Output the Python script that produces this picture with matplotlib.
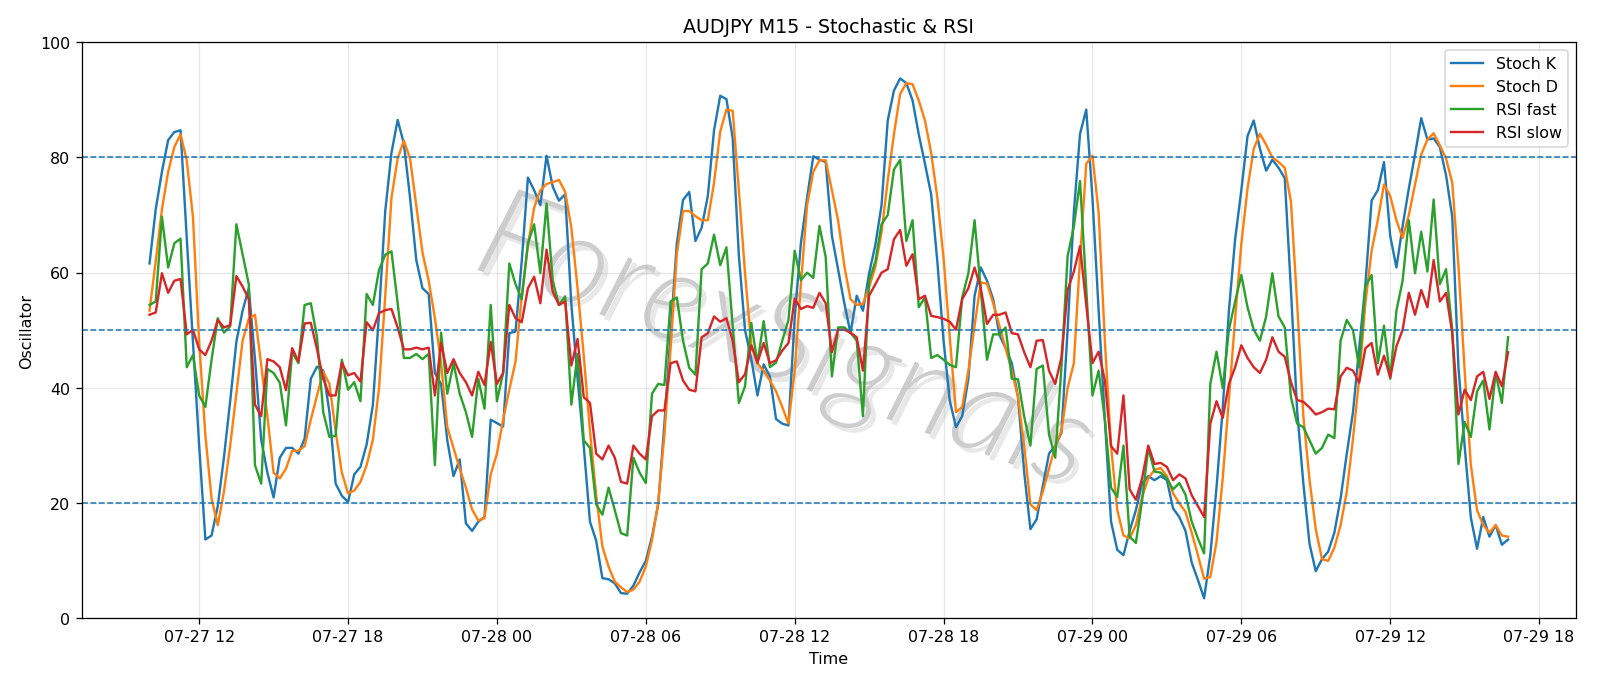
import matplotlib

matplotlib.use("Agg")
import matplotlib.dates as mdates
import matplotlib.patheffects as pe
import matplotlib.pyplot as plt
import pandas as pd

# 15-minute bars, AUDJPY
START = "2024-07-27 10:00"
FREQ = "15min"

STOCH_K = [
    61.6, 71, 77.5, 83, 84.4, 84.7, 66, 48, 30, 13.7,
    14.4, 19.5, 28, 37.7, 48, 53.4, 57.3, 45, 31, 25.3,
    21, 27.9, 29.6, 29.6, 28.6, 31.2, 41.6, 43.7, 43, 35.8,
    23.4, 21.3, 20.2, 25, 26.3, 30.2, 37, 53, 70.7, 80.8,
    86.5, 82.4, 73, 62.2, 57.3, 56.3, 42.6, 40.7, 30.9, 24.7,
    27.6, 16.5, 15.2, 16.8, 17.6, 34.5, 33.9, 33.3, 49.5, 49.8,
    62, 76.5, 74.3, 71.7, 80.3, 74.9, 72.5, 73.6, 54.5, 41.6,
    29.9, 16.8, 13.5, 7, 6.8, 6.1, 4.4, 4.3, 5.7, 8,
    10, 14.2, 19.8, 33.8, 49.5, 65.1, 72.6, 74, 65.5, 67.8,
    73.3, 84.7, 90.7, 90.1, 83.4, 63, 50, 45, 38.7, 44.1,
    42, 34.6, 33.8, 33.5, 52.1, 65.1, 73, 80.2, 79.6, 79.2,
    66.4, 60.6, 54.7, 49.5, 56, 53.4, 59.9, 64.8, 71.7, 86.4,
    91.6, 93.7, 92.9, 89.9, 84, 78.9, 73.6, 61.9, 48.2, 37.8,
    33.2, 35.1, 41.6, 56, 60.9, 58.6, 55.4, 49.2, 46.9, 44.3,
    38.4, 25.3, 15.5, 17.2, 23, 28.6, 30, 32.2, 50.1, 70.4,
    84.1, 88.3, 73, 53.4, 34.5, 16.8, 11.9, 11, 15.2, 18.8,
    23.4, 24.7, 24, 24.7, 24, 19.1, 17.6, 15.2, 9.7, 6.7,
    3.5, 11, 22.7, 36.4, 53.4, 65.8, 74.3, 83.7, 86.4, 81.5,
    77.7, 79.6, 78.2, 76.4, 57, 36, 23.4, 12.9, 8.2, 10.3,
    11.6, 14.9, 20.8, 28.6, 35.8, 46.9, 58, 72.5, 74.3, 79.2,
    66.4, 60.9, 68.1, 74.6, 80.5, 86.8, 83.1, 83.3, 81.8, 76.9,
    69.7, 43.6, 29.9, 17.5, 12.1, 17.6, 14.2, 16.2, 12.8, 13.7,
]

STOCH_D = [
    53.4, 62, 71, 77.5, 81.8, 84, 79.5, 69.7, 48, 31.8,
    20.8, 16.2, 22, 30, 39, 48.2, 52, 52.7, 44, 35.1,
    25.3, 24.3, 26, 29.1, 29.1, 29.9, 34.5, 38.7, 42.8, 40.7,
    32.5, 25.3, 21.7, 22.2, 23.7, 26.6, 31, 40, 56, 73,
    79.8, 82.9, 79.8, 71.7, 63.5, 58.6, 52.1, 44.3, 33.2, 29.6,
    26, 22.7, 18.9, 17, 17.4, 25, 28.6, 34.5, 39.7, 44.6,
    56, 64.8, 71.3, 74.3, 75.4, 75.7, 76.1, 74, 67.8, 57.3,
    45.6, 32.5, 21.4, 12.5, 9, 6.4, 5.4, 4.6, 5, 6.4,
    9, 13.6, 20.1, 31.9, 46.9, 63.2, 70.7, 70.7, 69.8, 69.1,
    69.1, 75.6, 84.5, 88.3, 88.1, 74.3, 59.9, 47.5, 44.3, 43,
    41.3, 39.4, 36.7, 33.8, 43, 58, 71.7, 77.5, 79.5, 79.5,
    74.3, 69.1, 61.2, 55.4, 54.4, 54.6, 57.5, 61, 67, 76,
    84, 91, 92.9, 92.7, 89.9, 86.4, 80.8, 73, 62.5, 48.8,
    35.8, 36.7, 43, 50.8, 58.3, 58.1, 54.7, 50.8, 46.9, 43,
    38.4, 29.9, 19.8, 18.8, 22, 26, 29.9, 32.5, 40, 44.3,
    62.5, 78.9, 80.3, 70.4, 48.2, 29.9, 18.8, 14.4, 13.9, 16.2,
    21.1, 24.3, 25.8, 26.1, 24.7, 21.7, 20, 18.5, 14.9, 11,
    6.9, 7.2, 13.3, 24.3, 38, 52, 65, 74.6, 81.5, 84.1,
    82.2, 80, 79.2, 78.2, 72.3, 54.7, 35.1, 24, 15.5, 10.3,
    10, 12.3, 16.2, 22, 31.2, 41.6, 54.7, 63.8, 69.1, 75.3,
    73.3, 69.1, 66, 70, 75.3, 80.5, 83.1, 84.2, 82.1, 79.8,
    75.6, 61.2, 43, 26.6, 18.8, 16.2, 14.9, 16.2, 14.4, 14.2,
]

RSI_FAST = [
    54.4, 55, 69.7, 60.9, 65.1, 65.9, 43.6, 45.7, 38.7, 36.7,
    44.9, 52.1, 49.6, 50.7, 68.4, 63.2, 58, 26.6, 23.4, 43.3,
    42.6, 40.9, 33.5, 46.2, 44.3, 54.4, 54.7, 48.8, 35.8, 31.5,
    31.7, 44.9, 39.7, 41, 37.7, 56.3, 54.4, 60.5, 63.1, 63.7,
    54.7, 45.2, 45.2, 45.9, 45, 45.9, 26.6, 49.6, 39, 44.3,
    39, 35.8, 31.5, 41.6, 36.4, 54.4, 37.7, 42.6, 61.6, 58,
    55.4, 65.1, 68.4, 59.9, 72, 58.6, 54.4, 55.9, 37.1, 45.9,
    30.9, 29.6, 19.8, 18, 22.7, 18.8, 14.8, 14.4, 27.9, 25.3,
    23.5, 39, 40.7, 40.5, 55, 55.7, 48.2, 43.5, 42.3, 60.6,
    61.6, 66.6, 61.3, 64.4, 50.8, 37.4, 40.3, 51.3, 44.3, 51.6,
    43.6, 44.4, 48.2, 51.8, 63.8, 58.7, 60, 59.1, 68.1, 62.7,
    42, 50.5, 50.5, 49.6, 48.2, 35.1, 58.6, 61.9, 68.4, 70,
    77.9, 79.6, 65.5, 69.1, 54, 55.7, 45.2, 45.7, 44.9, 44,
    43.6, 55.7, 59.9, 69.1, 57, 44.9, 49.3, 49.3, 50.5, 41.6,
    41.5, 35, 30, 43.3, 43.9, 31.9, 27.9, 43.6, 62.9, 68,
    75.9, 57.3, 38.7, 43, 34.5, 22.7, 21.1, 30, 14.2, 13.1,
    20.4, 29.6, 25.5, 25.3, 24.3, 22.4, 23.5, 21.5, 16.8, 13.9,
    11.3, 40.7, 46.3, 40, 50.1, 55, 59.6, 54, 50.1, 48.2,
    52.4, 59.9, 52.4, 50.5, 38.4, 33.8, 33.2, 30.9, 28.6, 29.6,
    31.9, 31.3, 48.2, 51.8, 50, 43.6, 57.6, 59.6, 44.3, 50.8,
    41.6, 53.4, 58.6, 69.1, 59.9, 67.1, 60.2, 72.7, 58, 60.6,
    50.1, 26.8, 34.1, 31.5, 39.4, 41.3, 32.8, 42.6, 37.4, 48.8,
]

RSI_SLOW = [
    52.7, 53.1, 59.9, 56.5, 58.6, 58.9, 49.3, 50.1, 46.7, 45.7,
    48.2, 51.8, 50.5, 50.9, 59.4, 57.6, 55.4, 37.1, 35.1, 45,
    44.6, 43.6, 39.6, 46.9, 44.6, 51.2, 51.3, 46.7, 41.6, 38.7,
    38.7, 44.4, 42.2, 42.6, 41.1, 51.4, 50, 53, 53.5, 53.7,
    50.5, 46.7, 46.7, 47, 46.7, 47, 38.7, 47.8, 42.6, 45,
    42.6, 41, 38.7, 42.8, 40.5, 48, 40.7, 42.6, 54.4, 52.1,
    51.4, 57.3, 59.3, 54.7, 64, 56.7, 54.4, 55, 43.9, 48.5,
    38.4, 37.4, 28.6, 27.6, 30, 27.9, 23.7, 23.4, 30, 28.6,
    27.6, 35.1, 36.1, 36.1, 44.3, 44.6, 41.3, 39.7, 39.4, 48.8,
    49.5, 52.4, 51.5, 52.1, 48.2, 41, 42.4, 47.4, 44.4, 47.8,
    44.3, 44.8, 46.5, 47.8, 55.5, 53.7, 54.2, 53.9, 56.5, 54.7,
    46.2, 50.1, 50.1, 49.6, 48.8, 43, 56, 58, 60, 60.6,
    65.8, 67.4, 61.2, 63.2, 55.4, 56, 52.5, 52.3, 52, 51.5,
    50.1, 55.4, 57.3, 60.9, 57.3, 51.1, 52.7, 52.7, 53.1, 49.5,
    49.3, 46.2, 43.6, 48.2, 48.3, 43, 40.7, 45.3, 57, 60.2,
    64.6, 54.4, 44.3, 46.3, 41.3, 29.9, 28.6, 38.7, 22.4, 20.6,
    24.3, 30, 26.8, 27, 26.3, 24, 25, 24.3, 21.4, 19.5,
    17.6, 33.8, 37.7, 34.8, 40.7, 43.6, 47.4, 45.2, 43.6, 42.6,
    44.9, 48.8, 46.3, 45.4, 41, 37.9, 37.6, 36.6, 35.4, 35.8,
    36.4, 36.3, 42, 43.5, 43, 40.9, 46.9, 47.8, 42.3, 45.6,
    41.8, 47.2, 50.1, 56.5, 52.7, 57, 54, 62.2, 55, 56.5,
    49.5, 35.4, 39.7, 37.9, 42, 42.8, 38.1, 42.8, 40.3, 46.2,
]

LEVELS = [20, 50, 80]
WATERMARK = "ForexSignals"


def main() -> None:
    t = pd.date_range(START, periods=len(STOCH_K), freq=FREQ)

    fig, ax = plt.subplots(figsize=(14, 6), dpi=1600 / 14)
    fig.subplots_adjust(left=0.051, right=0.985, top=0.9375, bottom=0.097)

    ax.plot(t, STOCH_K, label="Stoch K", lw=1.5)
    ax.plot(t, STOCH_D, label="Stoch D", lw=1.5)
    ax.plot(t, RSI_FAST, label="RSI fast", lw=1.5)
    ax.plot(t, RSI_SLOW, label="RSI slow", lw=1.5)
    for lvl in LEVELS:
        ax.axhline(lvl, color="C0", linestyle="--", linewidth=1)

    ax.set_ylim(0, 100)
    ax.xaxis.set_major_locator(mdates.HourLocator(byhour=[0, 6, 12, 18]))
    ax.xaxis.set_major_formatter(mdates.DateFormatter("%m-%d %H"))
    ax.grid(alpha=0.3)
    ax.set_title("AUDJPY M15 - Stochastic & RSI")
    ax.set_xlabel("Time")
    ax.set_ylabel("Oscillator")
    ax.legend(loc="upper right")

    # watermark: thin grey italic letters with a faint offset shadow
    ax.text(0.47, 0.475, WATERMARK, transform=ax.transAxes,
            ha="center", va="center", rotation=-20, fontsize=80,
            family=["Lato", "DejaVu Sans"], style="italic",
            fontweight=300, color="#cdcdcd", zorder=0,
            path_effects=[
                pe.withSimplePatchShadow(offset=(3, -3),
                                         shadow_rgbFace="#e8e8e8", alpha=1.0),
            ])

    fig.savefig("out.png")


if __name__ == "__main__":
    main()
